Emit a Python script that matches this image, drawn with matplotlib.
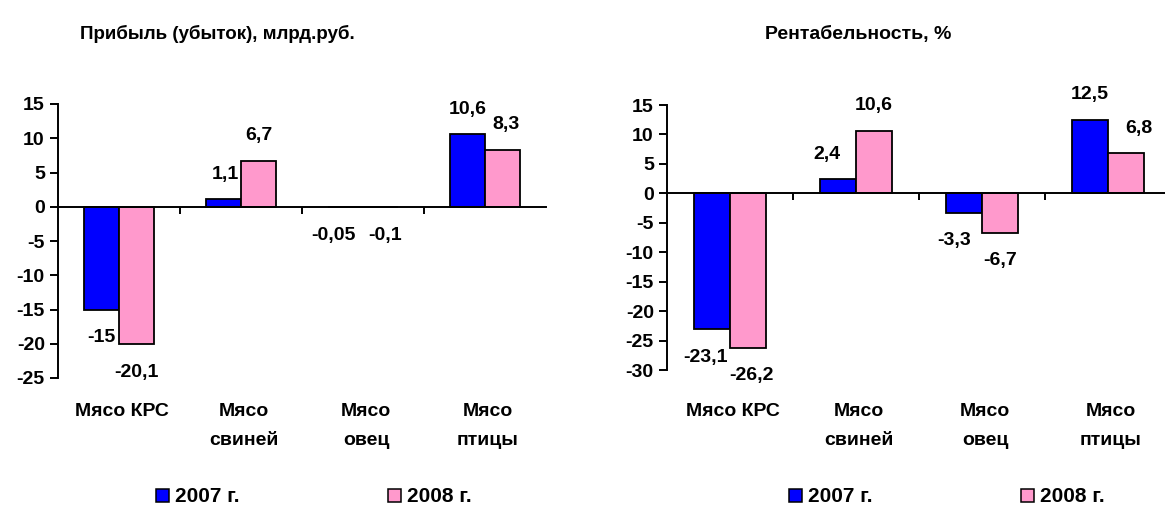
import matplotlib
matplotlib.use("Agg")
import matplotlib.pyplot as plt
from matplotlib.patches import Patch
from matplotlib.transforms import blended_transform_factory, offset_copy
import numpy as np

plt.rcParams['font.family'] = ['Liberation Sans', 'DejaVu Sans']
plt.rcParams['font.weight'] = 'bold'
plt.rcParams['axes.unicode_minus'] = False

categories = ["Мясо КРС", "Мясо\nсвиней", "Мясо\nовец", "Мясо\nптицы"]
series_names = ["2007 г.", "2008 г."]
profit_2007 = [-15, 1.1, -0.05, 10.6]
profit_2008 = [-20.1, 6.7, -0.1, 8.3]
profit_labels_2007 = ["-15", "1,1", "-0,05", "10,6"]
profit_labels_2008 = ["-20,1", "6,7", "-0,1", "8,3"]
rent_2007 = [-23.1, 2.4, -3.3, 12.5]
rent_2008 = [-26.2, 10.6, -6.7, 6.8]
rent_labels_2007 = ["-23,1", "2,4", "-3,3", "12,5"]
rent_labels_2008 = ["-26,2", "10,6", "-6,7", "6,8"]
titles = ["Прибыль (убыток), млрд.руб.", "Рентабельность, %"]

# label nudges (pixels), style only
profit_dx = ([0, 2, -12, 0], [0, 0, 5, 4])
rent_dx = ([-7, -11, -10, 0], [3, 0, 0, 13])

colors = ["#0000FF", "#FF99CC"]
FS = 14
W, H = 1165, 516
PT = 72 / 100  # points per pixel

fig = plt.figure(figsize=(W/100, H/100), dpi=100)
ax1 = fig.add_axes([58/W, 1-378/H, (546-58)/W, (378-104)/H])
ax2 = fig.add_axes([667/W, 1-370/H, (1171-667)/W, (370-105)/H])


def draw(ax, v1, v2, l1, l2, dxs, ylim, yticks, title, title_x, title_fs, legend_x):
    x = np.arange(len(categories))
    w = 0.285
    b1 = ax.bar(x - w/2, v1, w, color=colors[0], edgecolor='black', linewidth=1.3, zorder=2)
    b2 = ax.bar(x + w/2, v2, w, color=colors[1], edgecolor='black', linewidth=1.3, zorder=2)
    for bars, labs, dx in ((b1, l1, dxs[0]), (b2, l2, dxs[1])):
        for rect, lab, d in zip(bars, labs, dx):
            h = rect.get_height()
            cx = rect.get_x() + rect.get_width()/2
            off = 25 if h >= 0 else -28
            ax.annotate(lab, (cx, h), xytext=(d*PT, off*PT), textcoords='offset points',
                        ha='center', va='center', fontsize=FS, fontweight='bold')
    ax.set_xlim(-0.5, len(categories) - 0.5)
    ax.set_ylim(*ylim)
    ax.set_yticks(yticks)
    ax.set_yticklabels([str(t) for t in yticks], fontsize=FS, fontweight='bold')
    ax.spines['top'].set_visible(False)
    ax.spines['right'].set_visible(False)
    ax.spines['bottom'].set_position(('data', 0))
    ax.spines['left'].set_linewidth(1.4)
    ax.spines['bottom'].set_linewidth(1.4)
    ax.set_xticks(np.arange(len(categories) - 1) + 0.5)
    ax.set_xticklabels([])
    ax.tick_params(axis='x', direction='out', length=5, width=1.4)
    ax.tick_params(axis='y', direction='out', length=6, width=1.4, pad=3.5)
    trans = offset_copy(blended_transform_factory(ax.transData, fig.transFigure),
                        fig=fig, x=3, y=0, units='dots')
    for i, c in enumerate(categories):
        ax.text(i, 1-403/H, c, transform=trans, ha='center', va='top',
                fontsize=FS, fontweight='bold', linespacing=1.95)
    fig.text(title_x, 1-39/H, title, ha='left', va='baseline',
             fontsize=title_fs, fontweight='bold')
    for name, col, lx in zip(series_names, colors, legend_x):
        fig.legend([Patch(facecolor=col, edgecolor='black', linewidth=1.1)], [name],
                   loc='center left', bbox_to_anchor=(lx/W, 1-497/H),
                   frameon=False, handlelength=0.6, handleheight=0.6,
                   handletextpad=0.33, borderpad=0, borderaxespad=0,
                   prop={'size': 15, 'weight': 'bold'})


draw(ax1, profit_2007, profit_2008, profit_labels_2007, profit_labels_2008, profit_dx,
     (-25, 15), list(range(-25, 16, 5)), titles[0], 80/W, 13.5, (156, 388))
draw(ax2, rent_2007, rent_2008, rent_labels_2007, rent_labels_2008, rent_dx,
     (-30, 15), list(range(-30, 16, 5)), titles[1], 765/W, 14, (789, 1021))

fig.savefig("out.png", dpi=100)
